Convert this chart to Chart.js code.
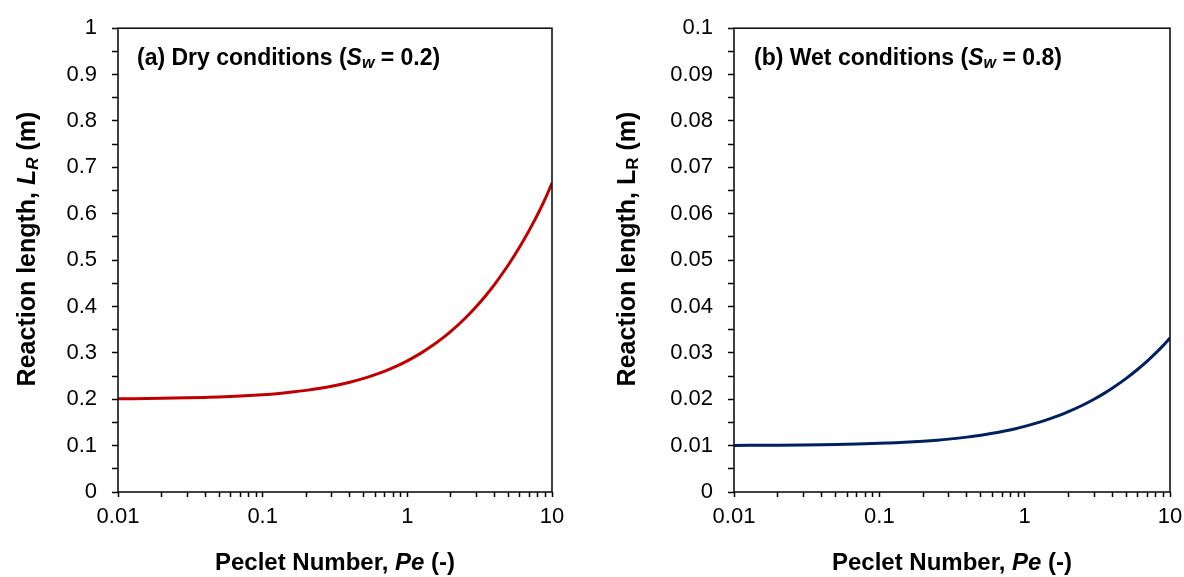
<!DOCTYPE html>
<html>
<head>
<meta charset="utf-8">
<script src="https://cdn.jsdelivr.net/npm/chart.js@4"></script>
<style>
  html, body { margin: 0; padding: 0; background: #fff; overflow: hidden; }
  #wrap { position: relative; width: 1184px; height: 577px; overflow: hidden; }
  canvas { position: absolute; top: 0; }
</style>
</head>
<body>
<div id="wrap">
  <canvas id="dryChart" width="592" height="577" style="left:0"></canvas>
  <canvas id="wetChart" width="600" height="577" style="left:592px"></canvas>
</div>
<script>
// Peclet numbers along the curves
var peclet = [0.01, 0.02, 0.03, 0.04, 0.05, 0.07, 0.1, 0.13, 0.16, 0.2, 0.25, 0.3, 0.4, 0.5, 0.6, 0.7, 0.85, 1, 1.25, 1.5, 1.75, 2, 2.5, 3, 3.5, 4, 5, 6, 7, 8, 9, 10];
// reaction length (m), dry case Sw = 0.2
var lengthDry = [0.2010, 0.2020, 0.2030, 0.2040, 0.2049, 0.2069, 0.2098, 0.2126, 0.2154, 0.2191, 0.2236, 0.2280, 0.2366, 0.2449, 0.2530, 0.2608, 0.2720, 0.2828, 0.3000, 0.3162, 0.3317, 0.3464, 0.3742, 0.4000, 0.4243, 0.4472, 0.4899, 0.5292, 0.5657, 0.6000, 0.6330, 0.6660];
// reaction length (m), wet case Sw = 0.8
var lengthWet = [0.01005, 0.01010, 0.01015, 0.01020, 0.01025, 0.01035, 0.01049, 0.01063, 0.01077, 0.01095, 0.01118, 0.01140, 0.01183, 0.01225, 0.01265, 0.01304, 0.01360, 0.01414, 0.01500, 0.01581, 0.01658, 0.01732, 0.01871, 0.02000, 0.02121, 0.02236, 0.02449, 0.02646, 0.02828, 0.03000, 0.03162, 0.03320];

var xDecades = [0.01, 0.1, 1, 10];
var xTickLabels = ['0.01', '0.1', '1', '10'];
var yTicksDry = [0, 0.1, 0.2, 0.3, 0.4, 0.5, 0.6, 0.7, 0.8, 0.9, 1];
var yTickLabelsDry = ['0', '0.1', '0.2', '0.3', '0.4', '0.5', '0.6', '0.7', '0.8', '0.9', '1'];
var yTicksWet = [0, 0.01, 0.02, 0.03, 0.04, 0.05, 0.06, 0.07, 0.08, 0.09, 0.1];
var yTickLabelsWet = ['0', '0.01', '0.02', '0.03', '0.04', '0.05', '0.06', '0.07', '0.08', '0.09', '0.1'];

var FONT = '"Liberation Sans", Arial, sans-serif';

function drawRuns(ctx, runs, x, y, centered) {
  var total = 0;
  runs.forEach(function(r) {
    ctx.font = r.font;
    r.w = ctx.measureText(r.text).width;
    total += r.w;
  });
  if (centered) x -= total / 2;
  runs.forEach(function(r) {
    ctx.font = r.font;
    ctx.fillText(r.text, x, y + (r.dy || 0));
    x += r.w;
  });
}

// frame, axis titles and panel note
var panelText = {
  id: 'panelText',
  afterDraw: function(chart, args, opts) {
    var ctx = chart.ctx, a = chart.chartArea;
    ctx.save();
    ctx.strokeStyle = '#111';
    ctx.lineWidth = 1.6;
    ctx.strokeRect(a.left, a.top, a.right - a.left, a.bottom - a.top);

    ctx.fillStyle = '#000';
    ctx.textBaseline = 'middle';
    ctx.textAlign = 'left';

    // y title
    var yb = 'bold 25px ' + FONT;
    var lFont = (opts.italicL ? 'italic ' : '') + yb;
    var subR = (opts.italicL ? 'italic ' : '') + 'bold 17px ' + FONT;
    ctx.save();
    ctx.translate(opts.yTitleX, opts.yTitleY);
    ctx.rotate(-Math.PI / 2);
    drawRuns(ctx, [
      {text: 'Reaction length, ', font: yb},
      {text: 'L', font: lFont},
      {text: 'R', font: subR, dy: 5},
      {text: ' (m)', font: yb}
    ], 0, 0, true);
    ctx.restore();

    // x title
    var xb = 'bold 24px ' + FONT;
    drawRuns(ctx, [
      {text: 'Peclet Number, ', font: xb},
      {text: 'Pe', font: 'italic ' + xb},
      {text: ' (-)', font: xb}
    ], (a.left + a.right) / 2, opts.xTitleY, true);

    // panel note
    var nb = 'bold 23px ' + FONT;
    drawRuns(ctx, [
      {text: opts.note[0], font: nb},
      {text: 'S', font: 'italic ' + nb},
      {text: 'w', font: 'italic bold 16px ' + FONT, dy: 5},
      {text: opts.note[1], font: nb}
    ], a.left + opts.noteX, a.top + opts.noteY, false);
    ctx.restore();
  }
};

function makePanel(id, values, color, yTicks, yLabels, yWidth, rightPad, text) {
  var ctx = document.getElementById(id).getContext('2d');
  var pts = peclet.map(function(p, i) { return {x: p, y: values[i]}; });

  return new Chart(ctx, {
    type: 'line',
    data: {
      datasets: [{
        data: pts,
        borderColor: color,
        borderWidth: 3,
        pointRadius: 0,
        fill: false,
        cubicInterpolationMode: 'monotone'
      }]
    },
    options: {
      responsive: false,
      animation: false,
      events: [],
      layout: { padding: { top: 23, right: rightPad, left: 0, bottom: 0 } },
      plugins: {
        legend: { display: false },
        tooltip: { enabled: false },
        panelText: text
      },
      scales: {
        x: {
          type: 'logarithmic',
          min: 0.01,
          max: 10,
          border: { display: false },
          grid: { drawOnChartArea: false, drawTicks: true, tickLength: 5, color: '#000', tickWidth: 1.5 },
          ticks: {
            autoSkip: false,
            maxRotation: 0,
            padding: 7,
            color: '#000',
            font: { family: FONT, size: 22 },
            callback: function(v) {
              var i = xDecades.indexOf(v);
              return i >= 0 ? xTickLabels[i] : '';
            }
          },
          afterBuildTicks: function(scale) {
            var t = [];
            xDecades.forEach(function(d, k) {
              t.push({value: d, major: true});
              if (k < xDecades.length - 1) {
                for (var m = 2; m <= 9; m++) t.push({value: +(d * m).toPrecision(3)});
              }
            });
            scale.ticks = t;
          },
          afterFit: function(scale) { scale.height = 85; }
        },
        y: {
          min: yTicks[0],
          max: yTicks[yTicks.length - 1],
          border: { display: false },
          grid: { drawOnChartArea: false, drawTicks: true, tickLength: 6, color: '#000', tickWidth: 1.5 },
          ticks: {
            autoSkip: false,
            padding: 15,
            color: '#000',
            font: { family: FONT, size: 22 },
            callback: function(v) {
              for (var i = 0; i < yTicks.length; i++) {
                if (Math.abs(v - yTicks[i]) < 1e-9) return yLabels[i];
              }
              return '';
            }
          },
          afterBuildTicks: function(scale) {
            var t = [];
            yTicks.forEach(function(v, k) {
              t.push({value: v});
              if (k < yTicks.length - 1) t.push({value: (v + yTicks[k + 1]) / 2});
            });
            scale.ticks = t;
          },
          afterFit: function(scale) { scale.width = yWidth; }
        }
      }
    },
    plugins: [panelText]
  });
}

makePanel('dryChart', lengthDry, '#C00000', yTicksDry, yTickLabelsDry, 118, 40,
  {yTitleX: 28, yTitleY: 249, xTitleY: 563, italicL: true, noteX: 19, noteY: 30,
   note: ['(a) Dry conditions (', ' = 0.2)']});

makePanel('wetChart', lengthWet, '#002060', yTicksWet, yTickLabelsWet, 142, 22,
  {yTitleX: 36, yTitleY: 249, xTitleY: 563, italicL: false, noteX: 20, noteY: 30,
   note: ['(b) Wet conditions (', ' = 0.8)']});
</script>
</body>
</html>
